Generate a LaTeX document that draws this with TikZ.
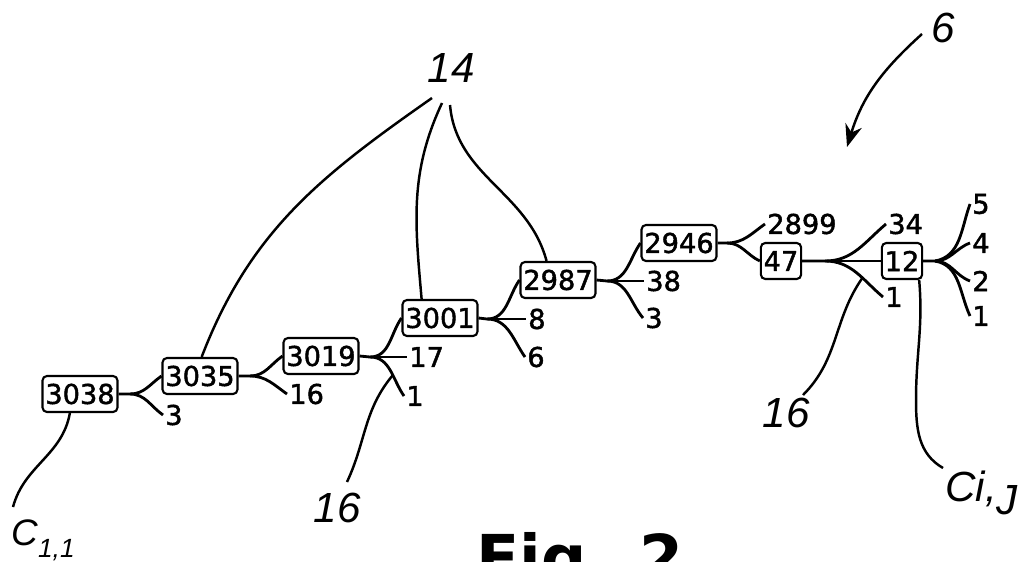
\documentclass[tikz,border=0pt]{standalone}
\usepackage{fontspec}
\setmainfont{DejaVu Sans}
\newfontfamily\numfont{DejaVu Sans}[FakeBold=1.6]
\newfontfamily\handfont{Liberation Sans}
\usetikzlibrary{arrows.meta}

\begin{document}
\begin{tikzpicture}[x=0.02cm, y=0.02cm, line width=1.6pt,
  box/.style = {draw, rounded corners=2.5pt, line width=1.2pt, inner xsep=1.6pt, inner ysep=0pt, minimum height=7.2mm, font=\numfont\fontsize{15.5}{18}\selectfont},
  leaf/.style = {anchor=west, inner xsep=0.5pt, inner ysep=0pt, font=\numfont\fontsize{15.5}{18}\selectfont},
  hand/.style = {inner sep=0pt, font=\handfont\itshape\fontsize{24}{28}\selectfont},
  ptr/.style = {line width=1.4pt}]
\useasboundingbox (0,0) rectangle (1026,-561);

% chain of nodes
\node[box] (b1) at (80,-394) {3038};
\node[box] (b2) at (200,-376) {3035};
\node[box] (b3) at (321,-356) {3019};
\node[box] (b4) at (440,-318) {3001};
\node[box] (b5) at (558,-280) {2987};
\node[box] (b6) at (679,-243) {2946};
\node[box] (b7) at (781,-261) {47};
\node[box] (b8) at (902,-261) {12};

% leaves
\node[leaf] (l1) at (163,-415) {3};
\node[leaf] (l2) at (287,-394) {16};
\node[leaf] (l3a) at (407,-357) {17};
\node[leaf] (l3b) at (404,-396) {1};
\node[leaf] (l4a) at (526,-319) {8};
\node[leaf] (l4b) at (525,-357) {6};
\node[leaf] (l5a) at (644,-281) {38};
\node[leaf] (l5b) at (643,-318) {3};
\node[leaf] (l6) at (765,-224) {2899};
\node[leaf] (l7a) at (886,-224) {34};
\node[leaf] (l7b) at (883,-297) {1};
\node[leaf] (l8a) at (970,-204) {5};
\node[leaf] (l8b) at (970,-243) {4};
\node[leaf] (l8c) at (970,-281) {2};
\node[leaf] (l8d) at (970,-316) {1};

% split points
\coordinate (s1) at (130,-394);
\coordinate (s2) at (250,-376);
\coordinate (s3) at (370,-357);
\coordinate (s4) at (487,-319);
\coordinate (s5) at (607,-281);
\coordinate (s6) at (727,-243);
\coordinate (s7) at (825,-261);
\coordinate (s8) at (935,-261);

\draw (b1.east) -- (s1) to[out=0,in=215] (b2.west);
\draw (s1) to[out=0,in=145] (l1.west);
\draw (b2.east) -- (s2) to[out=0,in=215] (b3.west);
\draw (s2) to[out=0,in=145] (l2.west);
\draw (b3.east) -- (s3) to[out=0,in=235] (b4.west);
\draw (s3) -- (l3a.west);
\draw (s3) to[out=0,in=125] coordinate[pos=0.6] (j3) (l3b.west);
\draw (b4.east) -- (s4) to[out=0,in=235] (b5.west);
\draw (s4) -- (l4a.west);
\draw (s4) to[out=0,in=125] (l4b.west);
\draw (b5.east) -- (s5) to[out=0,in=235] (b6.west);
\draw (s5) -- (l5a.west);
\draw (s5) to[out=0,in=130] (l5b.west);
\draw (b6.east) -- (s6) to[out=0,in=215] (l6.west);
\draw (s6) to[out=0,in=155] (b7.west);
\draw (b7.east) -- (s7) to[out=0,in=220] (l7a.west);
\draw (s7) -- (b8.west);
\draw (s7) to[out=0,in=140] coordinate[pos=0.62] (j7) (l7b.west);
\draw (b8.east) -- (s8) to[out=10,in=250] (l8a.west);
\draw (s8) to[out=0,in=200] (l8b.west);
\draw (s8) to[out=0,in=160] (l8c.west);
\draw (s8) to[out=-10,in=115] (l8d.west);

% reference labels
\node[hand] (t14) at (451,-68) {14};
\node[hand] (t16a) at (337,-508) {16};
\node[hand] (t16b) at (786,-413) {16};
\node[hand] (t6) at (943,-28) {6};
\node[hand, anchor=base west, font=\handfont\itshape\fontsize{21}{24}\selectfont] (c11) at (10,-545) {C\raisebox{-7pt}{\fontsize{15}{17}\selectfont 1,1}};
\node[hand, anchor=north west] (cij) at (944,-470) {Ci,\raisebox{-0.3em}{J}};

\coordinate (p14a) at (432,-98);
\coordinate (p14b) at (442,-103);
\coordinate (p14c) at (450,-105);
\coordinate (p16a) at (347,-482);
\coordinate (p16b) at (803,-395);
\coordinate (pc11) at (13,-507);
\coordinate (pcij) at (943,-468);
\coordinate (p6) at (922,-34);
\coordinate (a6) at (847,-147);

\draw[ptr] (p14a) to[out=215,in=69] (b2.85);
\draw[ptr] (p14b) to[out=245,in=95] (b4.134);
\draw[ptr] (p14c) to[out=-85,in=105] (b5.121);
\draw[ptr] (p16a) to[out=65,in=-130] (j3);
\draw[ptr] (p16b) to[out=45,in=-125] (j7);
\draw[ptr] (pc11) to[out=75,in=-100] (b1.242);
\draw[ptr] (b8.-48) to[out=-85,in=90] (916,-400) to[out=-90,in=150] (pcij);
\draw[ptr, -{Stealth[length=4.5mm, width=3.4mm]}] (p6) to[out=222,in=73] (a6);

% figure caption, cut by the page edge
\node[anchor=base west, inner sep=0pt, font=\bfseries\fontsize{36}{40}\selectfont] (fig) at (475,-580) {Fig. 2};
\end{tikzpicture}
\end{document}
